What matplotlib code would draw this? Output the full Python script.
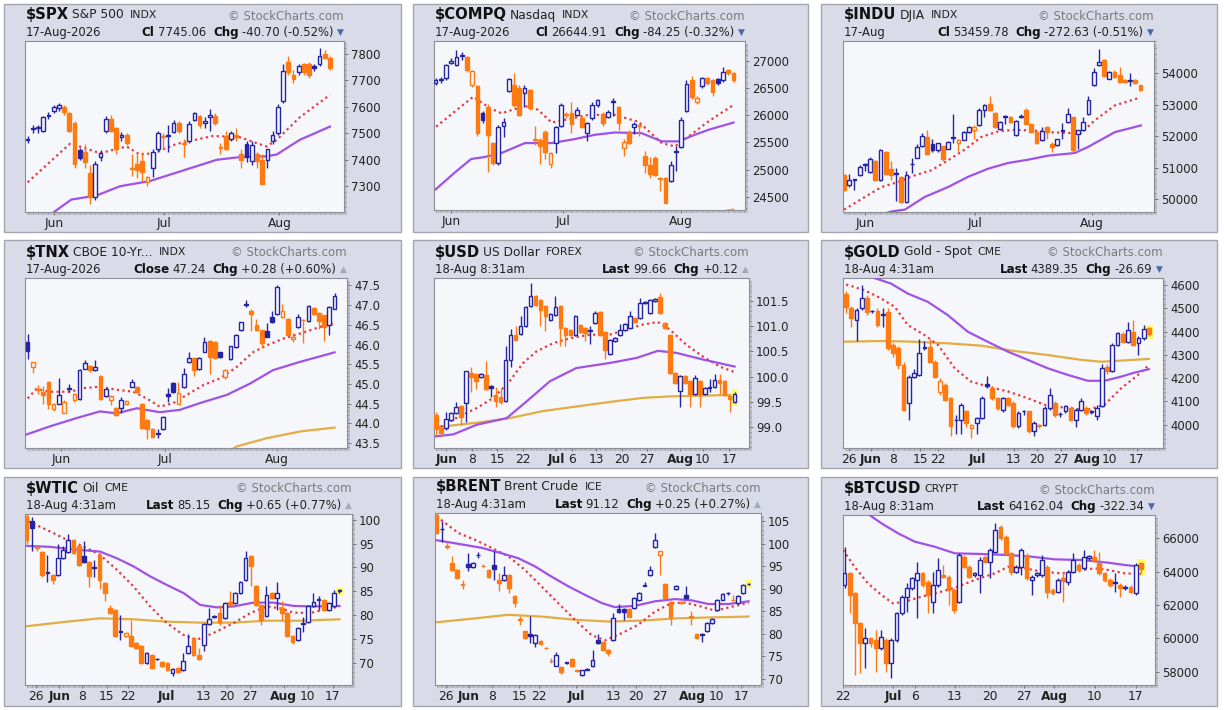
import matplotlib
matplotlib.use('Agg')
import matplotlib.pyplot as plt
from matplotlib.patches import Rectangle
from matplotlib.ticker import FixedLocator, MultipleLocator

plt.rcParams['font.family'] = ['DejaVu Sans']

W, H, DPI = 1224, 710, 100
BLUE = '#2424a4'
ORANGE = '#ff7b12'
RED = '#e8383d'
PURPLE = '#a052e6'
GOLD = '#e2ad43'
PANEL_BG = '#d9dce8'
PLOT_BG = '#f6f7fb'

# ---------------- $SPX ----------------
spx_prev = 7470
spx_open = [7475, 7515, 7520, 7510, 7565, 7585, 7595, 7600, 7575, 7540, 7435, 7430, 7350, 7260, 7410, 7510, 7555, 7520, 7485, 7495,
            7370, 7385, 7395, 7315, 7370, 7440, 7490, 7495, 7505, 7540, 7465, 7470, 7550, 7565, 7540, 7560, 7565, 7450, 7490, 7480,
            7495, 7420, 7460, 7395, 7420, 7400, 7400, 7470, 7500, 7620, 7770, 7720, 7730, 7760, 7760, 7755, 7760, 7800, 7785]
spx_close = [7478, 7520, 7522, 7560, 7570, 7598, 7605, 7580, 7510, 7385, 7405, 7390, 7260, 7385, 7425, 7555, 7510, 7440, 7495, 7465,
             7365, 7360, 7355, 7335, 7430, 7500, 7485, 7490, 7540, 7510, 7460, 7535, 7575, 7530, 7545, 7570, 7540, 7445, 7440, 7500,
             7485, 7400, 7410, 7455, 7395, 7310, 7440, 7495, 7600, 7735, 7730, 7705, 7755, 7730, 7720, 7745, 7790, 7785, 7745]
spx_high = [7490, 7530, 7530, 7565, 7580, 7605, 7615, 7605, 7580, 7545, 7445, 7460, 7380, 7395, 7435, 7565, 7570, 7525, 7505, 7500,
            7420, 7430, 7430, 7340, 7440, 7510, 7500, 7530, 7550, 7545, 7480, 7545, 7580, 7570, 7560, 7590, 7575, 7465, 7510, 7510,
            7520, 7440, 7470, 7470, 7430, 7420, 7440, 7510, 7610, 7760, 7790, 7740, 7760, 7765, 7770, 7760, 7820, 7815, 7790]
spx_low = [7462, 7500, 7500, 7505, 7555, 7575, 7585, 7570, 7505, 7370, 7400, 7370, 7235, 7250, 7395, 7500, 7505, 7420, 7470, 7455,
           7340, 7330, 7320, 7300, 7335, 7430, 7440, 7430, 7500, 7500, 7410, 7465, 7545, 7520, 7520, 7510, 7530, 7420, 7435, 7470,
           7470, 7370, 7390, 7380, 7370, 7310, 7370, 7460, 7495, 7615, 7720, 7690, 7720, 7720, 7710, 7735, 7755, 7780, 7740]
spx_ma20_at = [0, 8.1, 10, 13.9, 19, 21.5, 24.2, 28.6, 35.6, 40.7, 45.8, 47.8, 52.2, 58]
spx_ma20 = [7315, 7460, 7450, 7425, 7450, 7420, 7425, 7460, 7490, 7485, 7450, 7475, 7560, 7645]
spx_ma50_at = [4, 5.2, 8.4, 13.2, 17.7, 23.5, 29.9, 36.3, 40.7, 45.8, 47.8, 52.2, 58]
spx_ma50 = [7185, 7205, 7250, 7265, 7300, 7320, 7360, 7400, 7410, 7413, 7420, 7475, 7525]
spx_yticks = [7300, 7400, 7500, 7600, 7700, 7800]
spx_xtick_at = [5, 26.2, 48.3]
spx_xtick_lab = ['Jun', 'Jul', 'Aug']

# ---------------- $COMPQ ----------------
compq_prev = 26590
compq_open = [26600, 26640, 26680, 26960, 26930, 27090, 27070, 26560, 26530, 26040, 26160, 25490, 25120, 25800, 26450, 26560, 26500, 26410, 26460, 25540,
              25540, 25700, 25110, 25490, 25800, 26020, 26040, 26000, 25950, 25680, 25940, 26190, 26030, 25960, 26250, 26150, 25400, 25700, 25780, 25820,
              25240, 25090, 25220, 24820, 24840, 24790, 25350, 25420, 26070, 26650, 26250, 26540, 26680, 26650, 26670, 26650, 26840, 26780]
compq_close = [26640, 26660, 26920, 27000, 27080, 27100, 26830, 26820, 25670, 25920, 25640, 25120, 25790, 25880, 26670, 26190, 26010, 26510, 26130, 25560,
               25430, 25330, 25300, 25790, 26190, 26000, 25830, 26100, 25790, 25860, 26190, 26280, 25850, 26060, 26270, 25850, 25500, 25490, 25830, 25810,
               25090, 24910, 24900, 24840, 24390, 25080, 25330, 25910, 26580, 26340, 26320, 26680, 26600, 26430, 26600, 26800, 26770, 26645]
compq_high = [26680, 26700, 26950, 27050, 27200, 27160, 27090, 26840, 26560, 26080, 26200, 25500, 25820, 25950, 26690, 26780, 26560, 26560, 26480, 25800,
              25580, 25720, 25330, 25810, 26230, 26060, 26250, 26160, 25980, 25880, 26240, 26300, 26060, 26100, 26310, 26170, 25570, 25720, 25870, 25840,
              25340, 25230, 25240, 24870, 24860, 25150, 25440, 25960, 26650, 26730, 26360, 26700, 26700, 26670, 26690, 26880, 26850, 26800]
compq_low = [26560, 26600, 26650, 26940, 26900, 27020, 26800, 26520, 25620, 25850, 24950, 25080, 25080, 25600, 26420, 26150, 25980, 26150, 26100, 25450,
             25100, 25200, 25020, 25300, 25780, 25950, 25670, 25980, 25760, 25530, 25920, 26150, 25800, 25940, 25990, 25730, 25250, 25470, 25660, 25620,
             24930, 24850, 24880, 24600, 24390, 24770, 24980, 25400, 26050, 26300, 26200, 26500, 26560, 26360, 26560, 26620, 26740, 26610]
compq_ma20_at = [0.1, 7.2, 10.4, 12.6, 17.1, 19.6, 22.2, 24.7, 29.2, 34.3, 38.8, 43.3, 45.8, 48.4, 52.2, 57]
compq_ma20 = [25790, 26340, 26130, 26035, 26170, 26100, 25865, 25914, 26005, 26005, 25880, 25487, 25425, 25610, 25885, 26190]
compq_ma50_at = [0, 3.6, 6.8, 9.4, 12.6, 17.1, 22.2, 26.6, 30.5, 34.3, 39.4, 43.3, 46.5, 49.6, 52.2, 57]
compq_ma50 = [24633, 24938, 25194, 25230, 25304, 25487, 25487, 25560, 25640, 25682, 25670, 25518, 25518, 25640, 25731, 25865]
compq_ma200_at = [55.7, 57]
compq_ma200 = [24245, 24262]
compq_yticks = [24500, 25000, 25500, 26000, 26500, 27000]
compq_xtick_at = [3, 24.4, 47]
compq_xtick_lab = ['Jun', 'Jul', 'Aug']

# ---------------- $INDU ----------------
indu_prev = 50800
indu_open = [50760, 50450, 50620, 50760, 51120, 50870, 51230, 50610, 51500, 50970, 50840, 50710, 49920, 51110, 51320, 51680, 51980, 51760, 51550, 51680,
             51600, 51980, 51770, 51890, 52130, 52210, 52350, 52830, 53010, 52740, 52240, 52620, 52620, 52030, 52600, 52830, 52400, 52130, 51870, 52290,
             51750, 51720, 52170, 52450, 52600, 52080, 52190, 52700, 53620, 54240, 54420, 53820, 54030, 53930, 53790, 53760, 53790, 53610]
indu_close = [50290, 50600, 50640, 51025, 51100, 51280, 50610, 51550, 50810, 50760, 50800, 49920, 50760, 51130, 51660, 52000, 51430, 51550, 51780, 51290,
              51820, 51950, 51870, 52130, 52300, 52290, 52840, 52980, 52820, 52290, 52450, 52630, 52450, 52480, 52630, 52400, 52130, 51770, 52170, 52140,
              51650, 51900, 52180, 52700, 51560, 52180, 52450, 53130, 54030, 54350, 53900, 54030, 53870, 53720, 53700, 53770, 53680, 53460]
indu_high = [50800, 50790, 50660, 51100, 51140, 51330, 51250, 51610, 51520, 51200, 51000, 50730, 50900, 51300, 51740, 52100, 52200, 51900, 51800, 51700,
             51850, 52700, 51900, 52160, 52330, 52350, 52880, 53030, 53270, 52760, 52480, 52680, 52640, 52500, 52700, 52900, 52420, 52150, 52300, 52310,
             51820, 51920, 52430, 52900, 52620, 52200, 52620, 53260, 54170, 54760, 54450, 54060, 54100, 54200, 53810, 54000, 53810, 53630]
indu_low = [50250, 50400, 50300, 50740, 50900, 50850, 50580, 50590, 50780, 50600, 49950, 49900, 49900, 50820, 51300, 51660, 51400, 51500, 51500, 51200,
            51580, 51800, 51530, 51870, 52100, 51900, 52330, 52600, 52800, 52250, 52200, 52400, 52430, 52000, 52580, 52380, 52100, 51750, 51850, 51900,
            51500, 51700, 51900, 52430, 51500, 51580, 52170, 52680, 53600, 54220, 53880, 53800, 53850, 53700, 53680, 53580, 53660, 53440]
indu_ma20_at = [0, 4, 7.2, 10.4, 13.6, 16.8, 20, 23.2, 26.4, 29.6, 32.8, 36, 39.2, 43.1, 45.6, 48.2, 52.1, 56.9]
indu_ma20 = [49675, 50075, 50390, 50550, 50760, 50920, 51236, 51575, 51975, 52150, 52200, 52185, 52130, 52100, 52100, 52500, 52976, 53220]
indu_ma50_at = [8, 9.2, 11.7, 15.5, 20, 23.8, 27.7, 31.5, 35.4, 39.2, 44.4, 46.9, 52.1, 57.1]
indu_ma50 = [49560, 49620, 49675, 50075, 50390, 50710, 50970, 51150, 51256, 51383, 51468, 51658, 52130, 52340]
indu_yticks = [50000, 51000, 52000, 53000, 54000]
indu_xtick_at = [4, 25.1, 47.7]
indu_xtick_lab = ['Jun', 'Jul', 'Aug']

# ---------------- $TNX ----------------
tnx_prev = 45.70
tnx_open = [46.07, 45.44, 44.87, 44.80, 45.05, 44.35, 44.50, 44.25, 44.86, 44.60, 44.62, 45.39, 45.46, 45.35, 45.20, 44.68, 44.60, 44.38, 44.38, 44.48,
            44.93, 44.92, 44.50, 44.09, 43.85, 43.74, 43.86, 44.75, 45.02, 44.50, 44.92, 45.56, 45.65, 45.37, 45.82, 46.10, 46.07, 45.80, 45.18, 45.62,
            45.94, 46.37, 47.03, 46.84, 46.49, 46.36, 46.34, 46.70, 46.78, 46.70, 46.66, 46.14, 46.45, 46.62, 46.60, 46.93, 46.81, 46.74, 46.49, 46.91]
tnx_close = [45.83, 45.56, 44.85, 44.72, 44.50, 44.48, 44.72, 44.55, 44.89, 44.74, 45.35, 45.52, 45.36, 45.44, 44.62, 44.87, 44.70, 44.21, 44.59, 44.56,
             45.05, 44.80, 43.88, 43.85, 43.66, 43.72, 44.15, 44.70, 44.80, 44.76, 45.26, 45.66, 45.35, 45.66, 46.07, 45.68, 45.65, 45.67, 45.36, 45.95,
             46.25, 46.56, 47.00, 46.78, 46.37, 46.03, 46.20, 46.57, 47.46, 46.85, 46.25, 46.20, 46.70, 46.61, 46.98, 46.78, 46.59, 46.44, 46.95, 47.24]
tnx_high = [46.27, 45.56, 44.97, 44.95, 45.08, 44.52, 45.15, 44.58, 45.00, 44.76, 45.38, 45.60, 45.48, 45.60, 45.22, 44.90, 44.72, 44.40, 44.66, 44.58,
            45.12, 44.94, 44.52, 44.11, 43.87, 43.85, 44.18, 44.90, 45.04, 45.05, 45.40, 45.80, 45.67, 45.68, 46.20, 46.12, 46.10, 45.82, 45.38, 45.97,
            46.27, 46.58, 47.12, 46.90, 46.65, 46.38, 46.55, 46.85, 47.50, 47.02, 46.68, 46.30, 46.78, 46.65, 47.00, 46.95, 46.83, 46.76, 46.97, 47.30]
tnx_low = [45.63, 45.27, 44.75, 44.50, 44.35, 44.30, 44.48, 44.25, 44.80, 44.55, 44.60, 45.37, 45.30, 45.33, 44.60, 44.66, 44.45, 44.19, 44.26, 44.46,
           44.91, 44.78, 43.86, 43.60, 43.64, 43.62, 43.84, 44.55, 44.78, 44.50, 44.90, 45.54, 45.20, 45.35, 45.80, 45.25, 45.63, 45.65, 45.12, 45.60,
           45.92, 46.35, 46.95, 46.35, 46.35, 45.90, 46.18, 46.55, 46.76, 46.68, 46.23, 46.07, 46.43, 46.05, 46.58, 46.76, 46.40, 46.10, 46.25, 46.89]
tnx_ma20_at = [0, 1.7, 4.3, 8.1, 10.7, 13.9, 17.1, 20.3, 22.9, 25.4, 28, 30.6, 33.8, 37, 40.2, 43.4, 46, 49.2, 52.4, 56.3, 59]
tnx_ma20 = [44.63, 44.87, 44.80, 44.80, 44.89, 44.93, 44.85, 44.80, 44.63, 44.42, 44.51, 44.72, 44.97, 45.14, 45.43, 45.81, 45.98, 46.15, 46.28, 46.45, 46.53]
tnx_ma50_at = [-0.5, 4.3, 9.4, 13.9, 17.1, 21, 25.4, 29.3, 33.1, 38.3, 42.8, 47.2, 52.4, 59]
tnx_ma50 = [43.70, 43.92, 44.13, 44.30, 44.25, 44.38, 44.28, 44.34, 44.51, 44.72, 45.01, 45.35, 45.56, 45.80]
tnx_ma200_at = [39.6, 40.2, 46, 52.4, 59]
tnx_ma200 = [43.36, 43.41, 43.62, 43.79, 43.89]
tnx_yticks = [43.5, 44.0, 44.5, 45.0, 45.5, 46.0, 46.5, 47.0, 47.5]
tnx_xtick_at = [6.5, 26.4, 47.9]
tnx_xtick_lab = ['Jun', 'Jul', 'Aug']

# ---------------- $USD ----------------
usd_prev = 99.30
usd_open = [99.25, 98.98, 98.98, 99.15, 99.28, 99.42, 99.47, 100.08, 100.05, 100.00, 100.04, 99.82, 99.64, 99.60, 99.51, 100.33, 100.83, 100.84, 101.01, 101.39,
            101.59, 101.52, 101.39, 101.12, 101.22, 101.39, 100.96, 100.92, 100.83, 101.03, 100.96, 100.90, 101.06, 101.28, 100.88, 100.45, 100.70, 100.83, 100.93, 100.96,
            101.16, 101.16, 101.45, 101.26, 101.50, 101.58, 101.06, 100.83, 100.07, 99.71, 100.01, 99.91, 99.65, 99.91, 99.66, 99.78, 99.80, 99.94, 99.91, 99.62, 99.50]
usd_close = [98.98, 98.88, 99.17, 99.28, 99.40, 99.20, 100.11, 100.00, 99.92, 100.05, 99.75, 99.77, 99.51, 99.50, 100.33, 100.83, 100.73, 101.01, 101.38, 101.59,
             101.42, 101.32, 101.19, 101.24, 101.38, 100.96, 100.83, 100.82, 101.19, 100.89, 100.87, 100.92, 101.26, 100.83, 100.53, 100.73, 100.76, 100.93, 101.04, 101.19,
             101.09, 101.45, 101.47, 101.52, 101.53, 101.26, 100.96, 100.07, 99.88, 100.01, 99.88, 99.65, 99.97, 99.65, 99.78, 99.80, 99.94, 99.87, 99.64, 99.55, 99.66]
usd_high = [99.30, 99.00, 99.30, 99.30, 99.50, 99.44, 100.12, 100.20, 100.07, 100.07, 100.30, 99.84, 99.80, 99.75, 100.60, 100.95, 101.00, 101.20, 101.40, 101.85,
            101.61, 101.54, 101.41, 101.26, 101.60, 101.41, 100.98, 100.94, 101.21, 101.05, 100.98, 101.00, 101.30, 101.30, 100.90, 100.75, 100.78, 101.05, 101.06, 101.30,
            101.18, 101.55, 101.49, 101.54, 101.55, 101.65, 101.08, 100.85, 100.09, 100.03, 100.03, 99.93, 100.03, 99.93, 99.80, 99.95, 100.05, 100.05, 99.93, 99.64, 99.70]
usd_low = [98.85, 98.80, 98.95, 99.13, 99.26, 99.05, 99.10, 99.70, 99.75, 99.98, 99.73, 99.60, 99.40, 99.45, 99.49, 100.20, 100.70, 100.82, 100.99, 101.37,
           101.40, 101.00, 100.90, 101.10, 101.20, 100.60, 100.60, 100.80, 100.81, 100.87, 100.70, 100.65, 101.04, 100.81, 100.35, 100.43, 100.68, 100.81, 100.91, 100.94,
           101.07, 101.14, 101.43, 101.24, 101.48, 101.24, 100.94, 100.05, 99.86, 99.40, 99.86, 99.40, 99.63, 99.40, 99.64, 99.70, 99.78, 99.65, 99.62, 99.30, 99.48]
usd_ma20_at = [0, 2.8, 8.2, 11.5, 14.8, 17.5, 20.2, 23.5, 26.9, 30.9, 34.9, 38.3, 41.6, 44.6, 47, 50.3, 53.6, 57, 60]
usd_ma20 = [98.95, 99.12, 99.38, 99.58, 99.91, 100.27, 100.50, 100.66, 100.76, 100.83, 100.83, 100.93, 101.03, 101.08, 100.93, 100.63, 100.40, 100.20, 100.09]
usd_ma50_at = [0, 3.5, 8.2, 14.2, 18.2, 22.9, 28.2, 34.9, 40.3, 44.6, 48.3, 53.6, 60]
usd_ma50 = [98.82, 98.86, 99.05, 99.18, 99.51, 99.91, 100.17, 100.27, 100.37, 100.51, 100.47, 100.34, 100.20]
usd_ma200_at = [0, 8.2, 14.8, 21.5, 28.2, 34.9, 41.6, 47, 60]
usd_ma200 = [99.00, 99.09, 99.18, 99.32, 99.41, 99.50, 99.58, 99.61, 99.64]
usd_yticks = [99.0, 99.5, 100.0, 100.5, 101.0, 101.5]
usd_xtick_at = [2.1, 7.2, 12.3, 17.4, 24.2, 27.4, 32.2, 37.3, 42.4, 49.1, 53.6, 58.9]
usd_xtick_lab = ['Jun', '8', '15', '22', 'Jul', '6', '13', '20', '27', 'Aug', '10', '17']

# ---------------- $GOLD ----------------
gold_prev = 4580
gold_open = [4564, 4500, 4450, 4500, 4543, 4490, 4489, 4475, 4486, 4343, 4330, 4257, 4093, 4207, 4214, 4335, 4336, 4271, 4140, 4171,
             4114, 4020, 4021, 4057, 3986, 4007, 4029, 4175, 4157, 4114, 4064, 4114, 4093, 3993, 4060, 4057, 3971, 4000, 4000, 4071,
             4093, 4048, 4057, 4071, 4021, 4064, 4071, 4060, 4036, 4079, 4250, 4229, 4343, 4390, 4357, 4400, 4350, 4371, 4414]
gold_close = [4507, 4457, 4493, 4543, 4486, 4488, 4431, 4471, 4329, 4307, 4257, 4064, 4207, 4221, 4307, 4329, 4271, 4207, 4186, 4107,
              3993, 4022, 4086, 4007, 4000, 4029, 4117, 4168, 4114, 4071, 4114, 4086, 3993, 4050, 4057, 3971, 4007, 3993, 4071, 4128,
              4043, 4045, 4079, 4021, 4064, 4100, 4050, 4055, 4071, 4243, 4229, 4343, 4393, 4357, 4407, 4343, 4371, 4410, 4389]
gold_high = [4575, 4510, 4500, 4600, 4560, 4495, 4500, 4500, 4500, 4350, 4340, 4270, 4215, 4240, 4370, 4360, 4370, 4280, 4200, 4180,
             4120, 4040, 4095, 4065, 4005, 4035, 4125, 4210, 4165, 4120, 4120, 4120, 4100, 4060, 4065, 4060, 4015, 4005, 4080, 4160,
             4100, 4055, 4085, 4080, 4070, 4115, 4080, 4065, 4085, 4260, 4260, 4350, 4400, 4400, 4440, 4450, 4380, 4430, 4420]
gold_low = [4480, 4420, 4360, 4495, 4470, 4480, 4420, 4420, 4320, 4290, 4240, 4060, 4020, 4200, 4210, 4320, 4265, 4200, 4130, 4100,
            3950, 3960, 3960, 3990, 3945, 3960, 4025, 4160, 4105, 4065, 4055, 4080, 3985, 3985, 4040, 3965, 3950, 3985, 3995, 4065,
            4035, 4035, 4050, 4015, 3990, 4060, 4040, 4045, 4020, 4075, 4220, 4225, 4340, 4350, 4350, 4340, 4300, 4365, 4380]
gold_ma20_at = [0, 3.5, 6.7, 9.3, 11.8, 15, 17.6, 20.8, 23.9, 27.1, 31, 34.8, 38, 42.5, 46.3, 49.5, 52.7, 55.9, 58]
gold_ma20 = [4603, 4579, 4543, 4507, 4429, 4386, 4343, 4243, 4186, 4164, 4143, 4114, 4086, 4071, 4064, 4086, 4157, 4214, 4257]
gold_ma50_at = [4.5, 5.4, 8.6, 11.8, 15.6, 19.5, 23.3, 27.1, 31, 34.8, 38.6, 42.5, 46.3, 49.5, 52.7, 55.2, 58]
gold_ma50 = [4645, 4631, 4607, 4564, 4529, 4471, 4400, 4357, 4314, 4279, 4243, 4214, 4189, 4189, 4207, 4224, 4239]
gold_ma200_at = [-0.6, 6.7, 13.1, 19.5, 25.9, 32.2, 38.6, 45, 48.9, 58]
gold_ma200 = [4357, 4360, 4357, 4350, 4340, 4317, 4300, 4279, 4271, 4283]
gold_yticks = [4000, 4100, 4200, 4300, 4400, 4500, 4600]
gold_xtick_at = [0.5, 4.7, 8.9, 14.2, 17.6, 25.2, 32.1, 36.6, 41.2, 46.3, 50.4, 55.7]
gold_xtick_lab = ['26', 'Jun', '8', '15', '22', 'Jul', '13', '20', '27', 'Aug', '10', '17']

# ---------------- $WTIC ----------------
wtic_prev = 101.0
wtic_open = [100.7, 99.7, 94.2, 93.3, 89.0, 88.4, 88.4, 91.9, 93.3, 95.8, 94.4, 92.4, 91.2, 89.8, 92.6, 86.7, 81.4, 81.1, 76.6, 75.5,
             75.5, 74.1, 73.4, 69.9, 71.6, 70.7, 70.2, 69.9, 67.9, 68.8, 68.5, 72.1, 75.1, 71.6, 73.7, 78.1, 79.5, 80.4, 79.3, 82.8,
             82.5, 84.6, 87.4, 92.3, 86.0, 82.1, 79.7, 84.6, 83.5, 81.4, 80.4, 75.5, 74.8, 78.2, 78.6, 81.8, 83.2, 83.2, 81.1, 81.8, 85.0]
wtic_close = [95.8, 98.3, 94.0, 88.4, 88.9, 87.4, 91.9, 93.7, 95.8, 93.0, 90.5, 91.2, 88.1, 90.1, 87.4, 84.6, 80.4, 75.5, 76.5, 76.3,
              73.4, 73.0, 69.9, 72.0, 68.8, 70.8, 69.2, 68.5, 68.6, 68.1, 70.4, 73.4, 71.6, 70.7, 78.1, 79.1, 79.7, 78.6, 82.5, 82.1,
              84.6, 87.0, 91.9, 90.2, 82.1, 79.0, 84.2, 83.5, 84.6, 80.4, 75.5, 74.4, 77.2, 78.3, 81.8, 82.8, 83.3, 81.1, 82.5, 84.6, 85.15]
wtic_high = [101.2, 100.6, 94.5, 93.5, 92.5, 88.6, 94.8, 94.5, 97.0, 96.0, 94.6, 95.5, 91.4, 91.5, 93.0, 86.9, 82.0, 81.3, 80.0, 76.5,
             79.0, 74.3, 73.6, 72.2, 71.8, 71.0, 70.4, 70.1, 68.8, 69.0, 72.0, 76.0, 75.3, 73.0, 78.3, 81.5, 79.9, 82.0, 82.7, 85.0,
             84.8, 87.2, 93.5, 92.5, 86.2, 82.3, 86.0, 84.8, 87.0, 83.0, 80.6, 75.7, 77.4, 79.5, 82.0, 84.6, 84.0, 83.4, 82.7, 85.3, 85.4]
wtic_low = [95.0, 93.5, 93.5, 88.0, 87.0, 86.5, 88.2, 91.7, 93.1, 92.8, 90.3, 91.0, 85.9, 88.0, 85.5, 83.0, 80.2, 75.3, 74.8, 75.3,
            73.2, 72.8, 69.7, 69.7, 68.6, 70.5, 69.0, 68.3, 67.3, 67.9, 68.3, 71.9, 71.4, 70.5, 72.5, 77.9, 79.3, 78.0, 79.1, 81.9,
            82.3, 84.4, 87.2, 86.0, 81.9, 78.0, 79.5, 83.3, 81.0, 79.0, 75.3, 74.0, 74.6, 76.5, 78.4, 81.6, 81.0, 80.9, 80.9, 81.6, 84.7]
wtic_ma20_at = [0.3, 3.8, 7.7, 10.9, 14.1, 17.3, 20.5, 23.7, 26.9, 30.1, 32.6, 35.8, 39.7, 42.9, 46.1, 48.6, 51.2, 54.4, 56.9, 60]
wtic_ma20 = [99.65, 97.9, 95.8, 94.4, 92.6, 89.5, 86.0, 81.8, 78.3, 75.8, 74.8, 76.2, 78.3, 80.4, 81.8, 81.4, 80.5, 80.4, 81.1, 81.8]
wtic_ma50_at = [0, 4.5, 9.6, 14.1, 17.3, 20.5, 23.7, 26.9, 30.1, 33.3, 36.5, 39.7, 43.5, 47.3, 51.2, 55, 60]
wtic_ma50 = [94.5, 94.3, 93.7, 93.3, 91.9, 90.2, 88.1, 86.3, 84.6, 82.1, 81.6, 81.8, 82.6, 82.6, 81.9, 81.8, 81.9]
wtic_ma200_at = [-0.3, 7.7, 14.1, 20.5, 26.9, 33.3, 39.7, 46.1, 52.5, 60]
wtic_ma200 = [77.6, 78.6, 79.3, 79.1, 78.6, 78.4, 78.4, 78.8, 78.8, 79.1]
wtic_yticks = [70, 75, 80, 85, 90, 95, 100]
wtic_xtick_at = [1.8, 6.3, 10.7, 15.4, 19.5, 26.9, 33.9, 38.4, 42.9, 49.3, 53.9, 58.7]
wtic_xtick_lab = ['26', 'Jun', '8', '15', '22', 'Jul', '13', '20', '27', 'Aug', '10', '17']

# ---------------- $BRENT ----------------
brent_prev = 107.0
brent_open = [106.5, 103.2, 99.6, 95.7, 94.2, 91.0, 95.6, 94.8, 97.4, 95.1, 94.2, 95.3, 92.0, 92.0, 93.1, 88.3, 83.2, 80.5, 80.0, 77.9,
              78.3, 76.8, 74.0, 72.9, 72.5, 73.5, 74.3, 71.8, 70.7, 72.0, 72.8, 78.5, 78.2, 76.4, 78.5, 85.6, 85.5, 85.6, 85.8, 87.5,
              90.8, 93.1, 99.2, 97.6, 91.0, 87.0, 90.0, 87.0, 88.6, 84.0, 80.0, 80.0, 80.5, 82.3, 85.3, 87.6, 89.0, 87.6, 86.8, 89.0, 91.0]
brent_close = [102.4, 103.4, 99.4, 94.2, 92.4, 90.9, 94.8, 95.8, 97.6, 95.0, 92.7, 94.4, 91.3, 93.1, 90.1, 86.8, 83.0, 79.0, 79.5, 79.7,
               77.6, 76.7, 73.9, 75.2, 71.5, 73.6, 72.7, 71.7, 71.8, 72.1, 74.1, 78.0, 76.4, 75.8, 83.5, 84.8, 84.9, 83.8, 87.9, 89.0,
               90.7, 94.2, 100.9, 98.3, 88.0, 83.8, 90.6, 86.9, 87.9, 83.8, 79.0, 79.8, 82.3, 83.2, 87.6, 88.8, 88.95, 87.4, 88.3, 90.8, 91.12]
brent_high = [106.9, 105.0, 100.5, 97.2, 94.4, 92.0, 98.0, 96.0, 98.2, 95.6, 94.4, 98.5, 93.5, 95.0, 93.3, 88.5, 84.0, 80.7, 84.0, 79.9,
              78.5, 77.0, 74.5, 76.0, 72.7, 73.8, 74.5, 72.0, 72.0, 72.3, 76.3, 80.0, 78.4, 76.6, 84.5, 86.5, 85.7, 85.8, 88.1, 89.2,
              91.5, 95.0, 102.3, 98.5, 91.2, 87.2, 90.8, 87.2, 90.5, 85.0, 80.2, 80.2, 82.5, 83.4, 87.8, 89.0, 89.2, 88.5, 88.5, 91.0, 91.3]
brent_low = [102.2, 100.5, 98.8, 94.0, 92.2, 90.0, 94.0, 94.6, 96.8, 94.8, 92.5, 92.0, 89.5, 91.8, 89.0, 86.0, 82.0, 78.8, 78.0, 77.0,
             77.4, 76.5, 73.4, 72.7, 71.0, 73.3, 72.5, 71.5, 70.5, 71.8, 72.6, 77.8, 76.2, 75.0, 78.3, 84.6, 83.0, 83.6, 85.6, 87.3,
             90.5, 92.9, 99.0, 93.0, 87.8, 82.0, 89.8, 86.7, 87.7, 82.0, 78.8, 78.2, 80.3, 82.1, 85.1, 87.4, 88.7, 87.2, 86.6, 88.8, 90.8]
brent_ma20_at = [0, 4.2, 7.4, 10.6, 13.8, 17, 20.2, 23.4, 26.6, 29.8, 32.4, 35.6, 38.8, 42, 45.2, 47.8, 50.4, 53.6, 56.8, 60]
brent_ma20 = [106.1, 102.4, 100.9, 99.1, 97.2, 94.2, 90.5, 86.8, 83.1, 79.7, 78.5, 80.1, 82.0, 84.9, 86.8, 86.9, 86.2, 85.1, 86.0, 86.9]
brent_ma50_at = [0, 4.2, 8.7, 12.5, 15.7, 18.9, 22.1, 25.4, 28.6, 31.8, 34.3, 38.2, 42, 45.9, 49.1, 52.3, 56.2, 60]
brent_ma50 = [100.8, 100.0, 99.1, 97.9, 96.8, 95.0, 92.7, 90.5, 88.6, 86.8, 85.9, 86.2, 87.2, 87.7, 87.4, 86.6, 86.6, 87.2]
brent_ma200_at = [-0.3, 7.4, 13.8, 20.2, 26.6, 33.1, 39.5, 45.9, 52.3, 60]
brent_ma200 = [82.5, 83.4, 84.2, 83.8, 83.1, 82.7, 82.9, 83.4, 83.6, 83.8]
brent_yticks = [70, 75, 80, 85, 90, 95, 100, 105]
brent_xtick_at = [1.8, 6.2, 10.7, 15.9, 19.7, 26.8, 34, 38.4, 42.9, 49.3, 53.9, 58.6]
brent_xtick_lab = ['26', 'Jun', '8', '15', '22', 'Jul', '13', '20', '27', 'Aug', '10', '17']

# ---------------- $BTCUSD ----------------
btc_prev = 63000
btc_open = [63200, 63900, 62700, 60900, 59700, 60000, 59900, 59400, 59900, 58500, 59900, 61500, 62500, 63000, 63500, 63900, 63400, 62200, 63200, 63800,
            63700, 62900, 62200, 64900, 64300, 63800, 63800, 64900, 64600, 65200, 66700, 66100, 65100, 64000, 64300, 65000, 63500, 63800, 63800, 64300,
            62900, 62800, 63600, 63400, 64000, 64400, 64200, 64800, 64900, 64500, 63900, 63500, 63350, 63200, 63100, 63100, 62700, 64500]
btc_close = [63900, 62600, 60900, 59700, 60000, 59700, 59400, 60100, 58500, 59900, 61500, 62500, 63000, 63600, 63900, 63200, 62600, 63200, 64100, 63700,
             62900, 61700, 65000, 64300, 63700, 63900, 64700, 64600, 65300, 66500, 66000, 65100, 64000, 64300, 65300, 63600, 63700, 63900, 64700, 62800,
             62700, 63500, 63450, 64000, 64700, 64100, 64900, 64950, 64700, 63900, 63500, 63200, 63400, 63000, 63050, 62800, 64400, 64162]
btc_high = [65500, 64000, 62800, 61000, 60600, 60100, 60500, 60500, 60000, 60000, 61600, 62600, 63300, 63700, 64600, 64000, 63500, 64000, 64800, 64400,
            63800, 63000, 65100, 65000, 64400, 64000, 64900, 65000, 65400, 66900, 66800, 66200, 65200, 64400, 65400, 65100, 63800, 64000, 65000, 64400,
            63000, 63600, 64000, 64100, 65100, 64500, 65300, 65000, 65300, 65200, 64000, 63600, 63900, 63300, 63200, 63200, 64500, 64600]
btc_low = [63000, 61500, 57800, 57900, 58200, 59500, 58000, 59300, 58000, 57600, 59800, 61400, 61600, 62900, 61200, 63100, 61500, 61500, 63100, 63600,
           62000, 61500, 62100, 64200, 63600, 63700, 62700, 64500, 63600, 65100, 65900, 65000, 63800, 63900, 63800, 63500, 62600, 63700, 63700, 62400,
           62600, 62700, 62200, 63200, 63900, 64000, 64100, 64700, 64600, 63800, 63400, 63100, 62800, 62500, 62900, 62700, 62600, 63900]
btc_ma20_at = [-0.3, 1.9, 4.5, 7.1, 9.3, 11.6, 14.8, 18.6, 21.8, 25, 28.9, 31.5, 34.7, 37.9, 41.7, 45.6, 48.1, 50.7, 53.9, 57]
btc_ma20 = [65300, 64300, 63300, 62600, 62100, 62200, 62500, 62800, 63100, 63500, 63900, 64300, 64200, 64000, 63900, 64100, 64200, 64100, 63900, 63860]
btc_ma50_at = [4, 4.8, 7.1, 10.3, 13.5, 17.3, 21.2, 26.3, 31.5, 35.9, 40.4, 45.6, 50.7, 53.9, 57]
btc_ma50 = [67700, 67400, 66900, 66300, 65800, 65500, 65100, 65060, 65000, 64900, 64740, 64700, 64540, 64400, 64300]
btc_yticks = [58000, 60000, 62000, 64000, 66000]
btc_xtick_at = [-0.3, 9.3, 13.6, 21.2, 27.9, 34.5, 40.3, 48.1, 56]
btc_xtick_lab = ['22', 'Jul', '6', '13', '20', '27', 'Aug', '10', '17']


panels = [
    dict(sym='$SPX', name='S&P 500', exch='INDX', date='17-Aug-2026', lab='Cl', last='7745.06', chg='-40.70 (-0.52%)', up=False,
         o=spx_open, h=spx_high, l=spx_low, c=spx_close, prev=spx_prev,
         ma=[(spx_ma20_at, spx_ma20, 'r'), (spx_ma50_at, spx_ma50, 'p')],
         yt=spx_yticks, fmt='{:.0f}', ylim=(7203, 7848), xlim=(-0.5, 60.7), xt=(spx_xtick_at, spx_xtick_lab), hl=False,
         frame=(4, 4, 401, 232), plot=(25, 41, 344, 212)),
    dict(sym='$COMPQ', name='Nasdaq', exch='INDX', date='17-Aug-2026', lab='Cl', last='26644.91', chg='-84.25 (-0.32%)', up=False,
         o=compq_open, h=compq_high, l=compq_low, c=compq_close, prev=compq_prev,
         ma=[(compq_ma200_at, compq_ma200, 'g'), (compq_ma20_at, compq_ma20, 'r'), (compq_ma50_at, compq_ma50, 'p')],
         yt=compq_yticks, fmt='{:.0f}', ylim=(24255, 27366), xlim=(-0.3, 59.2), xt=(compq_xtick_at, compq_xtick_lab), hl=False,
         frame=(413, 4, 808, 232), plot=(434, 41, 745, 210)),
    dict(sym='$INDU', name='DJIA', exch='INDX', date='17-Aug', lab='Cl', last='53459.78', chg='-272.63 (-0.51%)', up=False,
         o=indu_open, h=indu_high, l=indu_low, c=indu_close, prev=indu_prev,
         ma=[(indu_ma20_at, indu_ma20, 'r'), (indu_ma50_at, indu_ma50, 'p')],
         yt=indu_yticks, fmt='{:.0f}', ylim=(49600, 55013), xlim=(-0.2, 59.6), xt=(indu_xtick_at, indu_xtick_lab), hl=False,
         frame=(821, 4, 1217, 232), plot=(843, 41, 1154, 212)),
    dict(sym='$TNX', name='CBOE 10-Yr...', exch='INDX', date='17-Aug-2026', lab='Close', last='47.24', chg='+0.28 (+0.60%)', up=True,
         o=tnx_open, h=tnx_high, l=tnx_low, c=tnx_close, prev=tnx_prev,
         ma=[(tnx_ma200_at, tnx_ma200, 'g'), (tnx_ma20_at, tnx_ma20, 'r'), (tnx_ma50_at, tnx_ma50, 'p')],
         yt=tnx_yticks, fmt='{:.1f}', ylim=(43.37, 47.69), xlim=(-0.5, 61.4), xt=(tnx_xtick_at, tnx_xtick_lab), hl=False,
         frame=(4, 240, 401, 468), plot=(25, 278, 347, 448)),
    dict(sym='$USD', name='US Dollar', exch='FOREX', date='18-Aug 8:31am', lab='Last', last='99.66', chg='+0.12', up=True,
         o=usd_open, h=usd_high, l=usd_low, c=usd_close, prev=usd_prev,
         ma=[(usd_ma200_at, usd_ma200, 'g'), (usd_ma20_at, usd_ma20, 'r'), (usd_ma50_at, usd_ma50, 'p')],
         yt=usd_yticks, fmt='{:.1f}', ylim=(98.59, 101.95), xlim=(-0.4, 62.9), xt=(usd_xtick_at, usd_xtick_lab), hl=True,
         frame=(413, 240, 808, 468), plot=(434, 278, 749, 448)),
    dict(sym='$GOLD', name='Gold - Spot', exch='CME', date='18-Aug 4:31am', lab='Last', last='4389.35', chg='-26.69', up=False,
         o=gold_open, h=gold_high, l=gold_low, c=gold_close, prev=gold_prev,
         ma=[(gold_ma200_at, gold_ma200, 'g'), (gold_ma20_at, gold_ma20, 'r'), (gold_ma50_at, gold_ma50, 'p')],
         yt=gold_yticks, fmt='{:.0f}', ylim=(3900, 4631), xlim=(-0.6, 60.7), xt=(gold_xtick_at, gold_xtick_lab), hl=True,
         frame=(821, 240, 1217, 468), plot=(843, 278, 1163, 448)),
    dict(sym='$WTIC', name='Oil', exch='CME', date='18-Aug 4:31am', lab='Last', last='85.15', chg='+0.65 (+0.77%)', up=True,
         o=wtic_open, h=wtic_high, l=wtic_low, c=wtic_close, prev=wtic_prev,
         ma=[(wtic_ma200_at, wtic_ma200, 'g'), (wtic_ma20_at, wtic_ma20, 'r'), (wtic_ma50_at, wtic_ma50, 'p')],
         yt=wtic_yticks, fmt='{:.0f}', ylim=(65.31, 101.19), xlim=(-0.3, 62.4), xt=(wtic_xtick_at, wtic_xtick_lab), hl=True,
         frame=(4, 477, 401, 706), plot=(25, 514, 352, 685)),
    dict(sym='$BRENT', name='Brent Crude', exch='ICE', date='18-Aug 4:31am', lab='Last', last='91.12', chg='+0.25 (+0.27%)', up=True,
         o=brent_open, h=brent_high, l=brent_low, c=brent_close, prev=brent_prev,
         ma=[(brent_ma200_at, brent_ma200, 'g'), (brent_ma20_at, brent_ma20, 'r'), (brent_ma50_at, brent_ma50, 'p')],
         yt=brent_yticks, fmt='{:.0f}', ylim=(68.57, 106.86), xlim=(-0.3, 62.4), xt=(brent_xtick_at, brent_xtick_lab), hl=True,
         frame=(413, 477, 808, 706), plot=(435, 513, 761, 685)),
    dict(sym='$BTCUSD', name='', exch='CRYPT', date='18-Aug 8:31am', lab='Last', last='64162.04', chg='-322.34', up=False,
         o=btc_open, h=btc_high, l=btc_low, c=btc_close, prev=btc_prev,
         ma=[(btc_ma20_at, btc_ma20, 'r'), (btc_ma50_at, btc_ma50, 'p')],
         yt=btc_yticks, fmt='{:.0f}', ylim=(57200, 67400), xlim=(-0.3, 59.7), xt=(btc_xtick_at, btc_xtick_lab), hl=True,
         frame=(821, 477, 1217, 706), plot=(843, 515, 1155, 685)),
]

MA_STYLE = {
    'r': dict(color=RED, lw=1.6, ls=(0, (1, 1.5)), zorder=5),
    'p': dict(color=PURPLE, lw=1.6, ls='-', zorder=5),
    'g': dict(color=GOLD, lw=1.6, ls='-', zorder=2),
}


def fig_rect(x0, y0, x1, y1):
    return [x0 / W, 1 - y1 / H, (x1 - x0) / W, (y1 - y0) / H]


def put_row(fig, renderer, x_px, y_px, pieces, align='left'):
    # pieces: (text, size, weight, color, gap after)
    arts = []
    for txt, size, weight, color, gap in pieces:
        t = fig.text(0, 0, txt, fontsize=size, fontweight=weight, color=color, va='center', ha='left', zorder=10)
        arts.append((t, gap))
    widths = [t.get_window_extent(renderer).width for t, _ in arts]
    total = sum(widths) + sum(g for _, g in arts[:-1])
    x = x_px if align == 'left' else x_px - total
    for (t, gap), w in zip(arts, widths):
        t.set_position((x / W, 1 - y_px / H))
        x += w + gap


def draw_candles(ax, o, h, l, c, prev, width=0.72):
    for i, (op, hi, lo, cl) in enumerate(zip(o, h, l, c)):
        col = BLUE if cl >= prev else ORANGE
        b0, b1 = min(op, cl), max(op, cl)
        ax.vlines(i, min(lo, b0), max(hi, b1), color=col, lw=1.0, zorder=6)
        face = col if cl < op else PLOT_BG
        ax.add_patch(Rectangle((i - width / 2, b0), width, b1 - b0, facecolor=face,
                               edgecolor=col, lw=1.0, zorder=7))
        prev = cl


fig = plt.figure(figsize=(W / DPI, H / DPI), dpi=DPI)
fig.patch.set_facecolor('white')
renderer = fig.canvas.get_renderer()

for p in panels:
    fx0, fy0, fx1, fy1 = p['frame']
    fig.patches.append(Rectangle((fx0 / W, 1 - fy1 / H), (fx1 - fx0) / W, (fy1 - fy0) / H,
                                 transform=fig.transFigure, facecolor=PANEL_BG,
                                 edgecolor='#a4a6ae', lw=1.0, zorder=-5))
    px0, py0, px1, py1 = p['plot']
    # soft shadow under the plot area
    fig.patches.append(Rectangle(((px0 + 2) / W, 1 - (py1 + 3) / H), (px1 - px0 + 1) / W, (py1 - py0) / H,
                                 transform=fig.transFigure, facecolor='#bfc2cc',
                                 edgecolor='none', zorder=-4))
    ax = fig.add_axes(fig_rect(px0, py0, px1, py1))
    ax.set_zorder(3)
    ax.set_facecolor(PLOT_BG)
    for s in ax.spines.values():
        s.set_color('#8e8e96')
        s.set_linewidth(0.8)

    if p['hl']:
        n = len(p['c']) - 1
        lo = min(p['l'][-1], p['o'][-1], p['c'][-1])
        hi = max(p['h'][-1], p['o'][-1], p['c'][-1])
        pad = (p['ylim'][1] - p['ylim'][0]) * 0.015
        ax.add_patch(Rectangle((n - 0.75, lo - pad), 1.5, hi - lo + 2 * pad,
                               facecolor='#ffff66', edgecolor='none', zorder=4))

    for at, vals, kind in p['ma']:
        ax.plot(at, vals, **MA_STYLE[kind])

    draw_candles(ax, p['o'], p['h'], p['l'], p['c'], p['prev'])

    ax.set_xlim(*p['xlim'])
    ax.set_ylim(*p['ylim'])

    yt = p['yt']
    ax.yaxis.tick_right()
    ax.yaxis.set_major_locator(FixedLocator(yt))
    ax.yaxis.set_minor_locator(MultipleLocator((yt[1] - yt[0]) / 5))
    ax.set_yticklabels([p['fmt'].format(v) for v in yt])
    ax.tick_params(axis='y', which='major', labelsize=8.4, length=3, width=0.7, color='#777', pad=2, labelcolor='#222')
    ax.tick_params(axis='y', which='minor', length=1.5, width=0.6, color='#888')

    at, labs = p['xt']
    weekly = any(s.isdigit() for s in labs)
    ax.xaxis.set_major_locator(FixedLocator(at))
    ax.xaxis.set_minor_locator(MultipleLocator(1))
    ax.set_xticklabels(labs)
    for t, s in zip(ax.get_xticklabels(), labs):
        if weekly and s.isalpha():
            t.set_fontweight('bold')
    ax.tick_params(axis='x', which='major', labelsize=8.8, length=2, width=0.7, color='#777', pad=1.5, labelcolor='#222')
    ax.tick_params(axis='x', which='minor', length=1.5, width=0.6, color='#999')

    # header
    y1 = py0 - 26
    y2 = py0 - 8.5
    row1 = [(p['sym'], 10.6, 'bold', '#111', 3)]
    if p['name']:
        row1.append((p['name'], 8.8, 'normal', '#222', 6))
    row1.append((p['exch'], 7.8, 'normal', '#222', 0))
    put_row(fig, renderer, px0 + 1, y1, row1)
    put_row(fig, renderer, px1, y1 + 1, [('\u00a9 StockCharts.com', 8.5, 'normal', '#7a7a80', 0)], align='right')

    put_row(fig, renderer, px0 + 1, y2, [(p['date'], 8.4, 'normal', '#222', 0)])
    tri = ('\u25b2', 6.5, 'normal', '#a3abbb', 0) if p['up'] else ('\u25bc', 6.5, 'normal', '#4a6aa8', 0)
    put_row(fig, renderer, px1, y2, [
        (p['lab'], 8.6, 'bold', '#111', 3),
        (p['last'], 8.4, 'normal', '#222', 7),
        ('Chg', 8.6, 'bold', '#111', 3),
        (p['chg'], 8.4, 'normal', '#222', 4),
        tri,
    ], align='right')

fig.savefig('out.png', dpi=DPI)
